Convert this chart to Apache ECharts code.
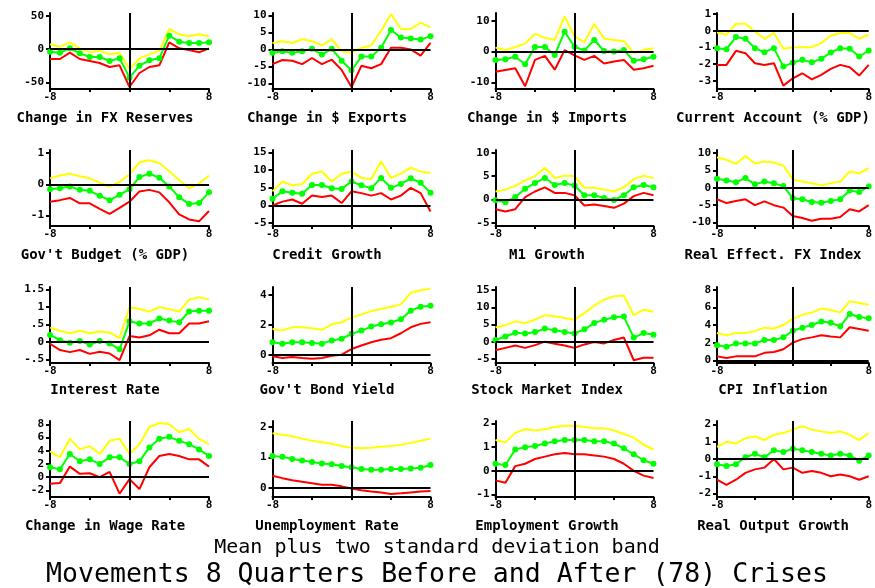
<!DOCTYPE html>
<html><head><meta charset="utf-8">
<script src="https://cdn.jsdelivr.net/npm/echarts@6/dist/echarts.min.js"></script>
<style>html,body{margin:0;padding:0;background:#fff}#c{width:875px;height:588px}</style>
</head><body><div id="c"></div>
<script>
const quarters = [-8,-7,-6,-5,-4,-3,-2,-1,0,1,2,3,4,5,6,7,8];
const panelTitles = ["Change in FX Reserves","Change in $ Exports","Change in $ Imports","Current Account (% GDP)",
  "Gov't Budget (% GDP)","Credit Growth","M1 Growth","Real Effect. FX Index",
  "Interest Rate","Gov't Bond Yield","Stock Market Index","CPI Inflation",
  "Change in Wage Rate","Unemployment Rate","Employment Growth","Real Output Growth"];

// each panel: upper band (mean + 2sd), mean, lower band (mean - 2sd)
const fxResUpper = [7,3.5,10,1,-5,-2.5,-8,-5.5,-30,-14,-8,-2.5,30,22,19,22,19];
const fxResMean  = [-4,-5.5,1,-6.5,-12,-12,-18,-14,-43,-25,-17,-14,20,11,9,9,10];
const fxResLower = [-15,-15,-5.5,-15,-18,-21,-27,-24.5,-57,-36,-27,-24.5,10,1,-1.5,-5,1];

const exportsUpper = [1.9,2.4,1.9,3.0,2.4,1.2,3.0,-0.5,-1.0,0.5,1.2,5.5,10.4,6.0,6.0,7.9,6.5];
const exportsMean  = [-1,-0.5,-1,-0.5,0.2,-1.5,0.2,-3.3,-6.1,-2.1,-2.1,0.5,5.7,3.5,3.2,2.9,3.9];
const exportsLower = [-4.3,-3.1,-3.3,-4.3,-2.5,-4.3,-3,-6,-11,-4.8,-5.5,-4.3,0.5,0.5,0,-1.8,1.9];

const importsUpper = [1.3,0.5,1.5,2.6,5.8,4.5,3.8,11.5,5,3.1,9,4.3,3.8,3.4,-0.5,0.5,1.1];
const importsMean  = [-2.7,-2.5,-1.7,-4.1,1.5,1.5,-1.1,6.5,1.6,0.4,3.8,0.2,0,0.5,-3,-2.5,-1.7];
const importsLower = [-6.6,-6,-5.4,-11.3,-2.7,-1.4,-5.9,0.5,-1.2,-2.7,-1.4,-3.9,-3.2,-2.7,-5.9,-5.4,-4.6];

const curAccUpper = [-0.1,-0.24,0.42,0.42,-0.04,-0.48,-0.14,-1.08,-0.98,-0.98,-0.98,-0.74,-0.28,-0.14,-0.14,-0.48,-0.24];
const curAccMean  = [-1.04,-1.1,-0.38,-0.48,-1.04,-1.28,-1.04,-2.14,-1.9,-1.74,-1.88,-1.68,-1.3,-1.04,-1.08,-1.54,-1.18];
const curAccLower = [-2.04,-2.04,-1.2,-1.34,-1.94,-2.04,-1.94,-3.28,-2.84,-2.54,-2.9,-2.64,-2.28,-2.04,-2.18,-2.68,-2.04];

const budgetUpper = [0.19,0.28,0.34,0.26,0.19,0.05,-0.07,0.07,0.32,0.71,0.77,0.68,0.42,0.14,-0.13,0.02,0.28];
const budgetMean  = [-0.16,-0.13,-0.07,-0.18,-0.21,-0.37,-0.51,-0.34,-0.16,0.23,0.34,0.21,-0.07,-0.42,-0.63,-0.6,-0.26];
const budgetLower = [-0.56,-0.51,-0.44,-0.61,-0.61,-0.79,-0.95,-0.76,-0.56,-0.23,-0.18,-0.26,-0.58,-0.97,-1.13,-1.19,-0.86];

const creditUpper = [4,6.8,5.7,6.1,9,9.6,6.8,9,9.6,7.8,7.4,12.5,7.8,9,10.7,9.6,9.2];
const creditMean  = [1.9,4,3.6,3.3,5.8,5.8,4.9,4.7,6.8,5.7,4.9,7.8,5,6.1,7.7,6.4,3.6];
const creditLower = [0,1.1,1.7,0.5,2.8,2.4,2.8,0.7,4,3.5,2.8,3.5,1.7,2.8,5,3.5,-1.7];

const m1Upper = [1.7,2.1,2.9,4.1,5,6.8,4.6,5.1,5,2.5,2.5,2.1,1.7,2.6,4.3,5.1,4.6];
const m1Mean  = [-0.2,-0.6,0.5,2.3,3.5,4.6,3.1,3.5,3,0.9,0.9,0.3,-0.1,0.9,2.6,3.1,2.6];
const m1Lower = [-2.1,-2.6,-2.1,0.5,1.7,2.6,1.4,1.4,0.9,-1.3,-1.1,-1.4,-1.8,-0.9,0.7,1.4,0.9];

const reerUpper = [8.8,8.1,6.9,9.2,7,7.6,7.3,6.4,2.4,1.8,1.3,0.7,1.3,1.8,4.7,4.2,5.7];
const reerMean  = [2.6,2.1,1.6,2.8,1,1.8,1.3,0.5,-3,-3.3,-4.1,-4.3,-3.8,-3.3,-0.8,-1.2,0.4];
const reerLower = [-3.3,-4.4,-3.8,-3.3,-5,-3.9,-5,-5.7,-8.1,-8.7,-9.5,-8.9,-8.9,-8.4,-6.2,-6.8,-5];

const rateUpper = [0.41,0.32,0.25,0.32,0.25,0.3,0.27,0.11,0.99,0.94,0.87,0.99,0.94,0.87,1.21,1.28,1.21];
const rateMean  = [0.2,0.05,-0.02,0.03,-0.07,0.03,-0.04,-0.21,0.59,0.53,0.53,0.67,0.61,0.56,0.87,0.89,0.89];
const rateLower = [-0.05,-0.23,-0.29,-0.23,-0.34,-0.28,-0.33,-0.52,0.17,0.13,0.19,0.35,0.25,0.25,0.53,0.53,0.59];

const bondUpper = [1.73,1.62,1.84,1.84,1.78,1.67,2.04,2.18,2.49,2.71,2.93,3.07,3.22,3.38,4.16,4.33,4.44];
const bondMean  = [0.84,0.73,0.84,0.84,0.78,0.73,0.96,1.07,1.4,1.62,1.89,2.04,2.16,2.38,2.96,3.22,3.29];
const bondLower = [-0.11,-0.22,-0.16,-0.22,-0.27,-0.22,-0.07,0,0.38,0.62,0.84,1,1.11,1.44,1.84,2.07,2.18];

const stockUpper = [4.1,4.8,5.9,5.4,6.4,7.7,7.4,6.9,6.4,8.3,10.5,12.2,13.2,13.4,7.7,9.3,8.7];
const stockMean  = [0.5,1.5,2.6,2.4,2.8,3.8,3.3,2.8,2.4,3.6,5.4,6.4,7.1,7.3,1.2,2.5,2];
const stockLower = [-2.5,-1.8,-1.1,-1.8,-1,0,-0.6,-1.1,-1.8,-0.8,-0.1,-0.5,0.5,1.2,-5.4,-4.7,-4.7];

const cpiUpper = [3.1,2.85,3.1,3.1,3.3,3.7,3.6,4,4.7,5.15,5.4,5.85,5.7,5.4,6.7,6.5,6.3];
const cpiMean  = [1.7,1.55,1.9,1.9,1.9,2.3,2.3,2.6,3.35,3.7,4,4.4,4.25,3.85,5.25,4.9,4.75];
const cpiLower = [0.45,0.27,0.45,0.45,0.45,0.85,0.95,1.25,2,2.4,2.6,2.85,2.7,2.6,3.75,3.55,3.35];

const wageUpper = [3.9,3.0,5.8,4.2,4.7,3.5,5.5,5.8,3.5,5.0,7.6,8.2,8.0,6.8,7.3,5.8,5.0];
const wageMean  = [1.5,1.2,3.5,2.4,2.7,2.0,3.0,3.0,2.0,2.4,4.5,5.8,6.1,5.5,5.0,4.2,3.2];
const wageLower = [-1.0,-0.9,1.6,0.5,0.6,0,0.8,-2.5,-0.3,-1.8,1.5,3.2,3.5,3.2,2.7,2.7,1.6];

const unempUpper = [1.8,1.75,1.7,1.62,1.55,1.5,1.45,1.38,1.32,1.3,1.32,1.35,1.38,1.42,1.48,1.55,1.62];
const unempMean  = [1.05,1.02,0.95,0.9,0.85,0.8,0.78,0.72,0.68,0.62,0.6,0.6,0.62,0.62,0.64,0.66,0.75];
const unempLower = [0.4,0.32,0.25,0.2,0.15,0.1,0.1,0.05,-0.02,-0.08,-0.12,-0.15,-0.2,-0.18,-0.15,-0.12,-0.1];

const emplUpper = [1.3,1.2,1.6,1.75,1.7,1.75,1.85,1.9,1.9,1.85,1.8,1.8,1.7,1.55,1.4,1.1,0.9];
const emplMean  = [0.3,0.25,0.9,1.0,1.05,1.15,1.25,1.3,1.3,1.3,1.25,1.25,1.15,0.95,0.7,0.45,0.3];
const emplLower = [-0.4,-0.5,0.2,0.3,0.5,0.6,0.7,0.75,0.7,0.7,0.65,0.6,0.5,0.3,0.0,-0.2,-0.3];

const outputUpper = [0.7,1.0,0.9,1.2,1.3,1.1,1.4,1.5,1.7,1.9,1.7,1.6,1.5,1.6,1.4,1.1,1.5];
const outputMean  = [-0.3,-0.4,-0.3,0.1,0.3,0.1,0.5,0.4,0.6,0.5,0.4,0.3,0.2,0.3,0.2,-0.1,0.2];
const outputLower = [-1.2,-1.5,-1.2,-0.8,-0.6,-0.5,0.0,-0.6,-0.5,-0.8,-0.7,-0.8,-1.0,-0.9,-1.0,-1.2,-1.0];

const yTickValues = [
  [50,0,-50],[10,5,0,-5,-10],[10,0,-10],[1,0,-1,-2,-3],
  [1,0,-1],[15,10,5,0,-5],[10,5,0,-5],[10,5,0,-5,-10],
  [1.5,1,0.5,0,-0.5],[4,2,0],[15,10,5,0,-5],[8,6,4,2,0],
  [8,6,4,2,0,-2],[2,1,0],[2,1,0,-1],[2,1,0,-1,-2]];
const xTickLabels = [-8, 8];

const panelData = [
  [fxResUpper,fxResMean,fxResLower],[exportsUpper,exportsMean,exportsLower],[importsUpper,importsMean,importsLower],[curAccUpper,curAccMean,curAccLower],
  [budgetUpper,budgetMean,budgetLower],[creditUpper,creditMean,creditLower],[m1Upper,m1Mean,m1Lower],[reerUpper,reerMean,reerLower],
  [rateUpper,rateMean,rateLower],[bondUpper,bondMean,bondLower],[stockUpper,stockMean,stockLower],[cpiUpper,cpiMean,cpiLower],
  [wageUpper,wageMean,wageLower],[unempUpper,unempMean,unempLower],[emplUpper,emplMean,emplLower],[outputUpper,outputMean,outputLower]];

// layout (not data)
const yExtent = [
  [-60,54],[-11.6,10.7],[-12.2,12.6],[-3.48,1.06],
  [-1.34,1.1],[-5.8,15.7],[-5.7,10.6],[-11,10.9],
  [-0.6,1.57],[-0.56,4.55],[-6.2,15.9],[-0.3,8.3],
  [-3,8.5],[-0.3,2.2],[-1.1,2.1],[-2.2,2.2]];
const colLeft = [50, 272.5, 495.5, 717];
const colWidth = [159, 158, 158, 156];
const rowTop = [13, 150, 287, 421];
const rowHeight = 76;
const titleCenter = [105, 327, 547, 773];
const titleY = [118, 255, 390, 526];

const FONT = "DejaVu Sans Mono";
const grids = [], xAxes = [], yAxes = [], series = [], graphics = [];
const fmt = v => String(v).replace(/^(-?)0\./, '$1.');
for (let i = 0; i < 16; i++) {
  const r = Math.floor(i / 4), c = i % 4;
  grids.push({left: colLeft[c], top: rowTop[r], width: colWidth[c], height: rowHeight, containLabel: false});
  xAxes.push({type: 'value', gridIndex: i, min: -8, max: 8, position: 'bottom',
    axisLine: {show: true, onZero: false, lineStyle: {color: '#000', width: 2}},
    axisTick: {show: true, customValues: [-8,-4,0,4,8], length: 3, inside: false, lineStyle: {color:'#000', width: 2}},
    axisLabel: {customValues: xTickLabels, color: '#000', fontFamily: FONT, fontWeight: 'bold', fontSize: 11, margin: 3},
    splitLine: {show: false}});
  yAxes.push({type: 'value', gridIndex: i, min: yExtent[i][0], max: yExtent[i][1], position: 'left',
    axisLine: {show: true, onZero: false, lineStyle: {color: '#000', width: 2}},
    axisTick: {show: true, customValues: yTickValues[i], length: 4, lineStyle: {color:'#000', width: 2}},
    axisLabel: {customValues: yTickValues[i], color: '#000', fontFamily: FONT, fontWeight: 'bold', fontSize: 11, margin: 6, formatter: fmt},
    splitLine: {show: false}});
  const [up, mean, low] = panelData[i];
  const mk = arr => quarters.map((q, k) => [q, arr[k]]);
  series.push({type: 'line', xAxisIndex: i, yAxisIndex: i, data: mk(up), showSymbol: false, symbol: 'none',
    lineStyle: {color: '#ffff00', width: 2}, itemStyle: {color: '#ffff00'}, animation: false, silent: true, z: 3,
    markLine: {silent: true, symbol: ['none','none'], label: {show: false}, animation: false,
      lineStyle: {color: '#000', width: 2, type: 'solid'}, emphasis: {disabled: true},
      data: [{xAxis: 0}, {yAxis: 0}]}});
  series.push({type: 'line', xAxisIndex: i, yAxisIndex: i, data: mk(low), showSymbol: false, symbol: 'none',
    lineStyle: {color: '#ff0000', width: 2}, itemStyle: {color: '#ff0000'}, animation: false, silent: true, z: 3});
  series.push({type: 'line', xAxisIndex: i, yAxisIndex: i, data: mk(mean), symbol: 'circle', symbolSize: 6, showSymbol: true,
    lineStyle: {color: '#00ff00', width: 2}, itemStyle: {color: '#00ff00'}, animation: false, silent: true, z: 4});
  graphics.push({type: 'text', x: titleCenter[c], y: titleY[r], style: {text: panelTitles[i], fill: '#000',
    font: 'bold 14px "' + FONT + '"', textAlign: 'center', textVerticalAlign: 'middle'}});
}
graphics.push({type: 'text', x: 437, y: 548, style: {text: 'Mean plus two standard deviation band', fill: '#000',
  font: '20px "' + FONT + '"', textAlign: 'center', textVerticalAlign: 'middle'}});
graphics.push({type: 'text', x: 437, y: 575, style: {text: 'Movements 8 Quarters Before and After (78) Crises', fill: '#000',
  font: '26.5px "' + FONT + '"', textAlign: 'center', textVerticalAlign: 'middle'}});

const chart = echarts.init(document.getElementById('c'), null, {renderer: 'canvas'});
chart.setOption({backgroundColor: '#fff', animation: false, grid: grids, xAxis: xAxes, yAxis: yAxes, series: series, graphic: graphics});
</script></body></html>
